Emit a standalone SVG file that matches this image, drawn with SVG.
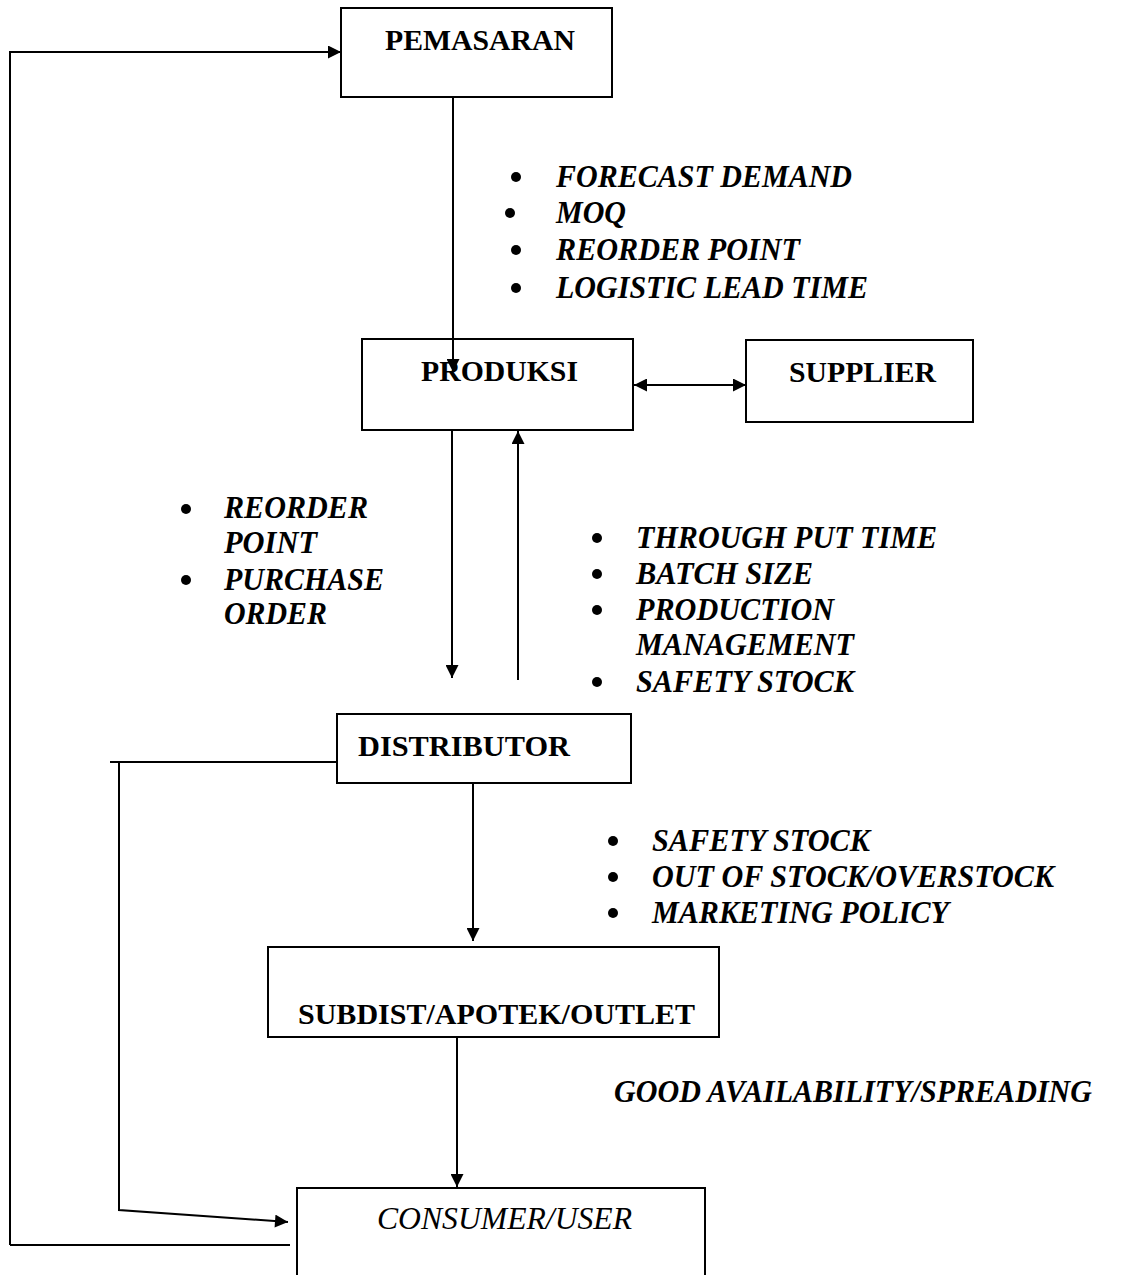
<svg xmlns="http://www.w3.org/2000/svg" width="1121" height="1275" viewBox="0 0 1121 1275">
  <defs>
    <marker id="arrow" viewBox="0 0 10 10" refX="10" refY="5" markerWidth="15" markerHeight="13" markerUnits="userSpaceOnUse" orient="auto-start-reverse">
      <path d="M0,0 L10,5 L0,10 Z" fill="#000"/>
    </marker>
  </defs>
  <style>
    .box { fill: #fff; stroke: #000; stroke-width: 2; }
    .edge { fill: none; stroke: #000; stroke-width: 2; }
    .title { font-family: "Liberation Serif", "Times New Roman", serif; font-size: 30px; font-weight: bold; fill: #000; }
    .item { font-family: "Liberation Serif", "Times New Roman", serif; font-size: 32px; font-weight: bold; font-style: italic; fill: #000; }
    .ital { font-family: "Liberation Serif", "Times New Roman", serif; font-size: 32px; font-style: italic; fill: #000; }
    .dot { fill: #000; }
  </style>
  <rect width="1121" height="1275" fill="#fff"/>

  <!-- nodes -->
  <g id="pemasaran">
    <rect class="box" x="341" y="8" width="271" height="89"/>
    <text class="title" x="385" y="50" textLength="190" lengthAdjust="spacingAndGlyphs">PEMASARAN</text>
  </g>
  <g id="produksi">
    <rect class="box" x="362" y="339" width="271" height="91"/>
    <text class="title" x="421" y="381" textLength="157" lengthAdjust="spacingAndGlyphs">PRODUKSI</text>
  </g>
  <g id="supplier">
    <rect class="box" x="746" y="340" width="227" height="82"/>
    <text class="title" x="789" y="382" textLength="147" lengthAdjust="spacingAndGlyphs">SUPPLIER</text>
  </g>
  <g id="distributor">
    <rect class="box" x="337" y="714" width="294" height="69"/>
    <text class="title" x="358" y="756" textLength="212" lengthAdjust="spacingAndGlyphs">DISTRIBUTOR</text>
  </g>
  <g id="subdist">
    <rect class="box" x="268" y="947" width="451" height="90"/>
    <text class="title" x="298" y="1024" textLength="397" lengthAdjust="spacingAndGlyphs">SUBDIST/APOTEK/OUTLET</text>
  </g>
  <g id="consumer">
    <rect class="box" x="297" y="1188" width="408" height="100"/>
    <text class="ital" x="377" y="1229" textLength="255" lengthAdjust="spacingAndGlyphs">CONSUMER/USER</text>
  </g>

  <!-- connectors -->
  <g id="connectors">
    <polyline class="edge" points="10,1245 10,52 341,52" marker-end="url(#arrow)"/>
    <line class="edge" x1="10" y1="1245" x2="290" y2="1245"/>
    <line class="edge" x1="453" y1="97" x2="453" y2="372" marker-end="url(#arrow)"/>
    <line class="edge" x1="634" y1="385" x2="746" y2="385" marker-start="url(#arrow)" marker-end="url(#arrow)"/>
    <line class="edge" x1="452" y1="430" x2="452" y2="678" marker-end="url(#arrow)"/>
    <line class="edge" x1="518" y1="680" x2="518" y2="431" marker-end="url(#arrow)"/>
    <polyline class="edge" points="110,762 337,762"/>
    <polyline class="edge" points="119,762 119,1210 288,1222" marker-end="url(#arrow)"/>
    <line class="edge" x1="473" y1="783" x2="473" y2="941" marker-end="url(#arrow)"/>
    <line class="edge" x1="457" y1="1037" x2="457" y2="1187" marker-end="url(#arrow)"/>
  </g>

  <!-- labels -->
  <g id="labels-pemasaran-produksi">
    <circle class="dot" cx="516" cy="177" r="5"/>
    <text class="item" x="556" y="187" textLength="296" lengthAdjust="spacingAndGlyphs">FORECAST DEMAND</text>
    <circle class="dot" cx="510" cy="213" r="5"/>
    <text class="item" x="556" y="223" textLength="70" lengthAdjust="spacingAndGlyphs">MOQ</text>
    <circle class="dot" cx="516" cy="250" r="5"/>
    <text class="item" x="556" y="260" textLength="244" lengthAdjust="spacingAndGlyphs">REORDER POINT</text>
    <circle class="dot" cx="516" cy="288" r="5"/>
    <text class="item" x="556" y="298" textLength="312" lengthAdjust="spacingAndGlyphs">LOGISTIC LEAD TIME</text>
  </g>
  <g id="labels-produksi-distributor">
    <circle class="dot" cx="186" cy="509" r="5"/>
    <text class="item" x="224" y="518" textLength="144" lengthAdjust="spacingAndGlyphs">REORDER</text>
    <text class="item" x="224" y="553" textLength="93" lengthAdjust="spacingAndGlyphs">POINT</text>
    <circle class="dot" cx="186" cy="580" r="5"/>
    <text class="item" x="224" y="590" textLength="160" lengthAdjust="spacingAndGlyphs">PURCHASE</text>
    <text class="item" x="224" y="624" textLength="103" lengthAdjust="spacingAndGlyphs">ORDER</text>
  </g>
  <g id="labels-distributor-produksi">
    <circle class="dot" cx="597" cy="538" r="5"/>
    <text class="item" x="636" y="548" textLength="301" lengthAdjust="spacingAndGlyphs">THROUGH PUT TIME</text>
    <circle class="dot" cx="597" cy="574" r="5"/>
    <text class="item" x="636" y="584" textLength="177" lengthAdjust="spacingAndGlyphs">BATCH SIZE</text>
    <circle class="dot" cx="597" cy="610" r="5"/>
    <text class="item" x="636" y="620" textLength="198" lengthAdjust="spacingAndGlyphs">PRODUCTION</text>
    <text class="item" x="636" y="655" textLength="218" lengthAdjust="spacingAndGlyphs">MANAGEMENT</text>
    <circle class="dot" cx="597" cy="682" r="5"/>
    <text class="item" x="636" y="692" textLength="218" lengthAdjust="spacingAndGlyphs">SAFETY STOCK</text>
  </g>
  <g id="labels-distributor-subdist">
    <circle class="dot" cx="613" cy="841" r="5"/>
    <text class="item" x="652" y="851" textLength="218" lengthAdjust="spacingAndGlyphs">SAFETY STOCK</text>
    <circle class="dot" cx="613" cy="877" r="5"/>
    <text class="item" x="652" y="887" textLength="402" lengthAdjust="spacingAndGlyphs">OUT OF STOCK/OVERSTOCK</text>
    <circle class="dot" cx="613" cy="913" r="5"/>
    <text class="item" x="652" y="923" textLength="297" lengthAdjust="spacingAndGlyphs">MARKETING POLICY</text>
  </g>
  <g id="labels-subdist-consumer">
    <text class="item" x="614" y="1102" textLength="478" lengthAdjust="spacingAndGlyphs">GOOD AVAILABILITY/SPREADING</text>
  </g>
</svg>
